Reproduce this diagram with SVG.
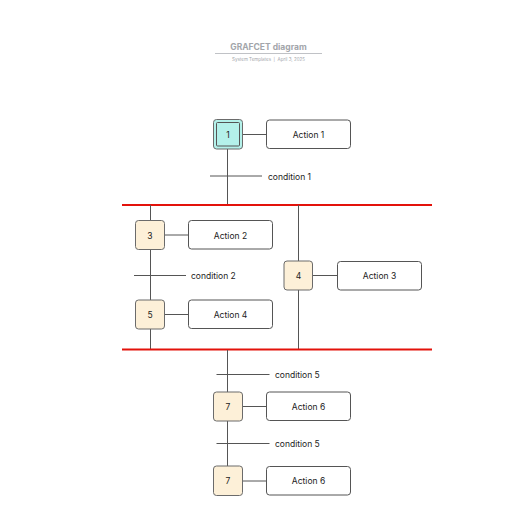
<svg xmlns="http://www.w3.org/2000/svg" width="516" height="516" viewBox="0 0 516 516">
<style>
.step{fill:#fdf0d8;stroke:#6b6b6b;stroke-width:1}
.act{fill:#ffffff;stroke:#555;stroke-width:1}
.ln{stroke:#555;stroke-width:1;fill:none}
.red{stroke:#e3120b;stroke-width:2;fill:none}
text{font-family:Inter,"Noto Sans",sans-serif;fill:#222}
.lbl{font-size:8.5px;text-anchor:middle;dominant-baseline:central}
.cond{font-size:8.5px;dominant-baseline:central}
</style>
<rect width="516" height="516" fill="#ffffff"/>
<g id="title">
<text x="268.5" y="47" font-size="8.5" font-weight="bold" text-anchor="middle" dominant-baseline="central" style="fill:#a3a6ab">GRAFCET diagram</text>
<line x1="215" y1="53.5" x2="322" y2="53.5" stroke="#b0b3b8" stroke-width="0.8"/>
<text x="268.5" y="59" font-size="4.5" text-anchor="middle" dominant-baseline="central" style="fill:#a3a6ab;white-space:pre">System Templates  |  April 3, 2025</text>
</g>
<g id="connectors">
<line class="ln" x1="242.5" y1="134.5" x2="266.5" y2="134.5"/>
<line class="ln" x1="227.5" y1="149" x2="227.5" y2="205"/>
<line class="ln" x1="210" y1="176" x2="262" y2="176"/>
<line class="red" x1="122" y1="205" x2="432" y2="205"/>
<line class="ln" x1="150.5" y1="205" x2="150.5" y2="350"/>
<line class="ln" x1="298.5" y1="205" x2="298.5" y2="350"/>
<line class="ln" x1="164.5" y1="235" x2="188.5" y2="235"/>
<line class="ln" x1="134" y1="275.5" x2="186" y2="275.5"/>
<line class="ln" x1="164.5" y1="314.5" x2="188.5" y2="314.5"/>
<line class="ln" x1="312.5" y1="275.5" x2="337.5" y2="275.5"/>
<line class="red" x1="122" y1="349.5" x2="432" y2="349.5"/>
<line class="ln" x1="227.5" y1="350" x2="227.5" y2="466"/>
<line class="ln" x1="216.5" y1="374.5" x2="269.5" y2="374.5"/>
<line class="ln" x1="242.5" y1="406.5" x2="266.5" y2="406.5"/>
<line class="ln" x1="216.5" y1="443.5" x2="269.5" y2="443.5"/>
<line class="ln" x1="242.5" y1="481" x2="266.5" y2="481"/>
</g>
<g id="cond1"><text class="cond" x="268" y="176.5">condition 1</text></g>
<g id="cond2"><text class="cond" x="191" y="275.5">condition 2</text></g>
<g id="cond5a"><text class="cond" x="275" y="374.5">condition 5</text></g>
<g id="cond5b"><text class="cond" x="275" y="443.5">condition 5</text></g>
<g id="step1">
<rect x="213.5" y="119.5" width="29" height="29.5" rx="3" fill="#b4f1ea" stroke="#6b6b6b" stroke-width="1"/>
<rect x="216.5" y="122.5" width="23" height="23.5" rx="1" fill="none" stroke="#555" stroke-width="1"/>
<text class="lbl" x="228" y="134.5">1</text>
</g>
<g id="action1"><rect class="act" x="266.5" y="120" width="84" height="28.5" rx="3"/><text class="lbl" x="308.5" y="134.5">Action 1</text></g>
<g id="step3"><rect class="step" x="135.5" y="220.5" width="29" height="29" rx="3"/><text class="lbl" x="150" y="235.5">3</text></g>
<g id="action2"><rect class="act" x="188.5" y="220.5" width="84" height="28.5" rx="3"/><text class="lbl" x="230.5" y="235.5">Action 2</text></g>
<g id="step5"><rect class="step" x="135.5" y="300" width="29" height="29" rx="3"/><text class="lbl" x="150" y="315">5</text></g>
<g id="action4"><rect class="act" x="188.5" y="300" width="84" height="28.5" rx="3"/><text class="lbl" x="230.5" y="315">Action 4</text></g>
<g id="step4"><rect class="step" x="284" y="261" width="28.5" height="29" rx="3"/><text class="lbl" x="298.5" y="276">4</text></g>
<g id="action3"><rect class="act" x="337.5" y="261.5" width="84" height="28.5" rx="3"/><text class="lbl" x="379.5" y="276">Action 3</text></g>
<g id="step7a"><rect class="step" x="213.5" y="392" width="29" height="29" rx="3"/><text class="lbl" x="228" y="407">7</text></g>
<g id="action6a"><rect class="act" x="266.5" y="392" width="84" height="28.5" rx="3"/><text class="lbl" x="308.5" y="407">Action 6</text></g>
<g id="step7b"><rect class="step" x="213.5" y="466" width="29" height="29.5" rx="3"/><text class="lbl" x="228" y="481">7</text></g>
<g id="action6b"><rect class="act" x="266.5" y="466.5" width="84" height="28.5" rx="3"/><text class="lbl" x="308.5" y="481">Action 6</text></g>
</svg>
